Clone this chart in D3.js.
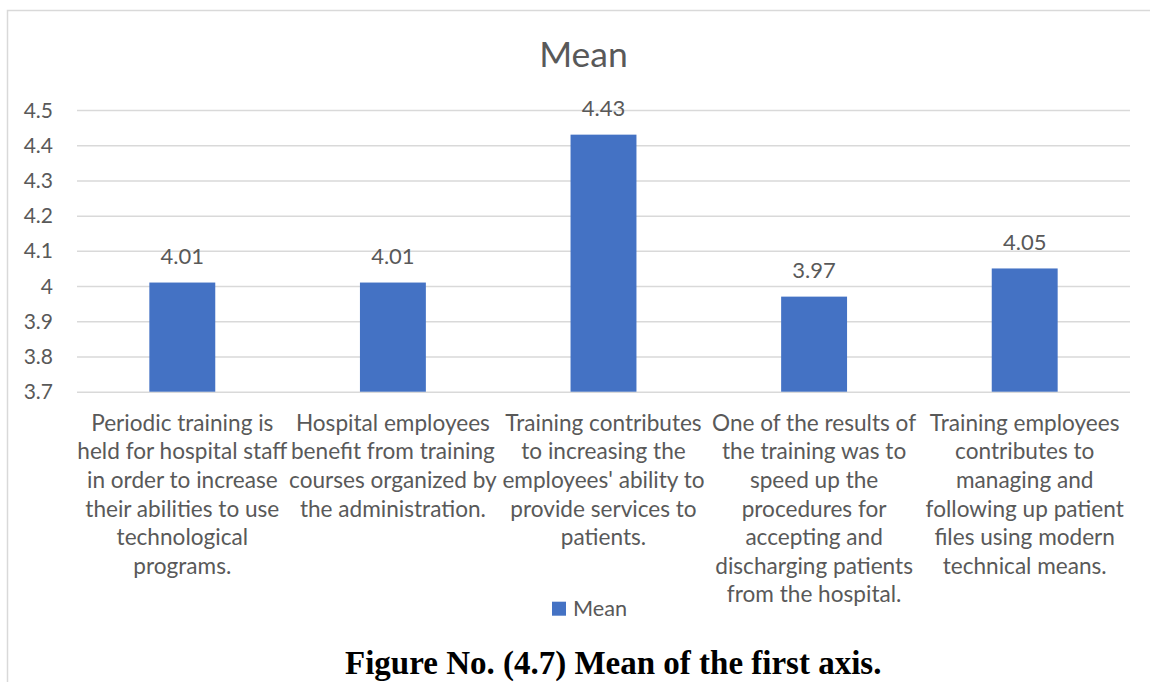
<!DOCTYPE html>
<html>
<head>
<meta charset="utf-8">
<script src="https://cdn.jsdelivr.net/npm/d3@7"></script>
<style>
  html, body { margin: 0; padding: 0; background: #fff; }
  svg { display: block; }
</style>
</head>
<body>
<svg id="chart" width="1150" height="682"></svg>
<script>
// Survey items (pre-wrapped as they appear under each bar)
const categories = [
  ["Periodic training is", "held for hospital staff", "in order to increase", "their abilities to use", "technological", "programs."],
  ["Hospital employees", "benefit from training", "courses organized by", "the administration."],
  ["Training contributes", "to increasing the", "employees' ability to", "provide services to", "patients."],
  ["One of the results of", "the training was to", "speed up the", "procedures for", "accepting and", "discharging patients", "from the hospital."],
  ["Training employees", "contributes to", "managing and", "following up patient", "files using modern", "technical means."]
];
const meanValues = [4.01, 4.01, 4.43, 3.97, 4.05];
const tickValues = [3.7, 3.8, 3.9, 4.0, 4.1, 4.2, 4.3, 4.4, 4.5];
const tickLabels = ["3.7", "3.8", "3.9", "4", "4.1", "4.2", "4.3", "4.4", "4.5"];
const seriesName = "Mean";
const chartTitle = "Mean";
const captionText = "Figure No. (4.7) Mean of the first axis.";

const textColor = "#595959";
const gridColor = "#d9d9d9";
const barColor = "#4472c4";
const sans = "Lato, 'Open Sans', sans-serif";

const svg = d3.select("#chart");

// chart frame
svg.append("rect")
  .attr("x", 7.5).attr("y", 10.5)
  .attr("width", 1200).attr("height", 700)
  .attr("fill", "#fff")
  .attr("stroke", gridColor).attr("stroke-width", 1.5);

const plot = { left: 77, right: 1130, top: 110, bottom: 391.7 };

const idx = categories.map((d, i) => i);
const x = d3.scaleBand()
  .domain(idx)
  .range([plot.left, plot.right])
  .paddingInner(0.687)
  .paddingOuter(0.3435);

const y = d3.scaleLinear()
  .domain([3.7, 4.5])
  .range([plot.bottom, plot.top]);

// gridlines and value axis labels
const yAxis = d3.axisLeft(y)
  .tickValues(tickValues)
  .tickSize(-(plot.right - plot.left))
  .tickPadding(24)
  .tickFormat((d, i) => tickLabels[i]);

const gy = svg.append("g")
  .attr("transform", `translate(${plot.left},0)`)
  .call(yAxis);
gy.select(".domain").remove();
gy.selectAll(".tick line")
  .attr("stroke", gridColor).attr("stroke-width", 1.5);
gy.selectAll(".tick text")
  .attr("fill", textColor)
  .attr("font-family", sans)
  .attr("font-size", 21)
  .attr("dy", "0.34em");

// bars
svg.append("g").selectAll("rect")
  .data(meanValues)
  .join("rect")
  .attr("x", (d, i) => x(i))
  .attr("y", d => y(d))
  .attr("width", x.bandwidth())
  .attr("height", d => y(3.7) - y(d))
  .attr("fill", barColor);

// value labels
svg.append("g").selectAll("text")
  .data(meanValues)
  .join("text")
  .attr("x", (d, i) => x(i) + x.bandwidth() / 2)
  .attr("y", d => y(d) - 18.5)
  .attr("text-anchor", "middle")
  .attr("fill", textColor)
  .attr("font-family", sans)
  .attr("font-size", 22)
  .text(d => d.toFixed(2));

// category labels
const lineHeight = 28.6;
const catG = svg.append("g");
categories.forEach((lines, i) => {
  const t = catG.append("text")
    .attr("text-anchor", "middle")
    .attr("fill", textColor)
    .attr("font-family", sans)
    .attr("font-size", 22.6);
  lines.forEach((ln, j) => {
    t.append("tspan")
      .attr("x", x(i) + x.bandwidth() / 2)
      .attr("y", 430.7 + j * lineHeight)
      .text(ln);
  });
});

// title
svg.append("text")
  .attr("x", 583.5).attr("y", 66.7)
  .attr("text-anchor", "middle")
  .attr("fill", textColor)
  .attr("font-family", sans)
  .attr("font-size", 35.5)
  .text(chartTitle);

// legend
const legend = svg.append("g").attr("transform", "translate(552,601.7)");
legend.append("rect")
  .attr("width", 14).attr("height", 14)
  .attr("fill", barColor);
legend.append("text")
  .attr("x", 21).attr("y", 13.8)
  .attr("fill", textColor)
  .attr("font-family", sans)
  .attr("font-size", 21.7)
  .text(seriesName);

// figure caption
svg.append("text")
  .attr("x", 345).attr("y", 674)
  .attr("font-family", "'Liberation Serif', 'Times New Roman', serif")
  .attr("font-weight", "bold")
  .attr("font-size", 33)
  .attr("fill", "#000")
  .text(captionText);
</script>
</body>
</html>
